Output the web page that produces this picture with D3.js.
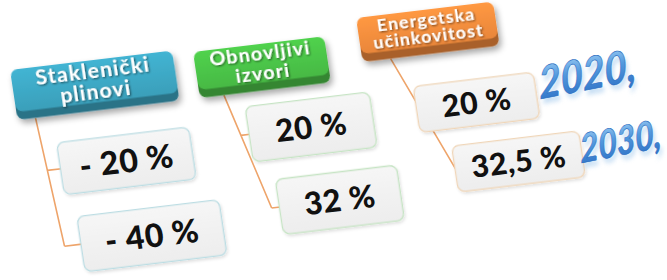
<!DOCTYPE html>
<html>
<head>
<meta charset="utf-8">
<script src="https://cdn.jsdelivr.net/npm/d3@7"></script>
<style>
	html, body { margin: 0; background: #fff; }
	svg { display: block; }
</style>
</head>
<body>
<div id="chart"></div>
<script>

// DATA

const categories = ['Staklenički plinovi', 'Obnovljivi izvori', 'Energetska učinkovitost'],
			targets2020 = ['- 20 %', '20 %', '20 %'],
			targets2030 = ['- 40 %', '32 %', '32,5 %'],
			years = ['2020,', '2030,'];

const headColors = ['#3a9fba', '#47b944', '#e9863a'],
			boxStrokes = ['#bcdde3', '#c6e4c4', '#f0d6b8'];

// LAYOUT (per group, local skewed frame)

const byGroup = r => d3.scaleLinear().domain([0, 1, 2]).range(r);

const originX = byGroup([10, 193, 356]),
			originY = byGroup([70, 52, 18]),
			headW = byGroup([162, 131, 137]),
			headH = byGroup([50, 46, 44]),
			labelSize = byGroup([21, 19.5, 17.5]),
			valueSize = byGroup([32, 31, 30]),
			lineX = byGroup([18, 24, 28]),
			lineSlant = byGroup([0.074, 0.26, 0.41]);

const rows = [
	{ values: targets2020, x: byGroup([35, 43, 46]), y: byGroup([77, 60, 74]), w: byGroup([132, 124, 120]), h: byGroup([52, 55, 46]) },
	{ values: targets2030, x: byGroup([44, 62, 75]), y: byGroup([152, 135, 137]), w: byGroup([142, 121, 127]), h: byGroup([55, 55, 46]) }
];

const yearX = d3.scaleLinear().domain([0, 1]).range([540, 581]),
			yearY = d3.scaleLinear().domain([0, 1]).range([99, 163]),
			yearSize = d3.scaleLinear().domain([0, 1]).range([37, 33]),
			yearStretch = d3.scaleLinear().domain([0, 1]).range([1.04, 0.98]);

// SVG

const svg = d3.select('#chart')
	.append('svg')
	.attr('width', 667)
	.attr('height', 280);

const defs = svg.append('defs');

defs.append('filter')
	.attr('id', 'headShadow')
	.attr('x', '-20%').attr('y', '-20%').attr('width', '140%').attr('height', '160%')
	.append('feDropShadow')
	.attr('dx', 2).attr('dy', 4).attr('stdDeviation', 3)
	.attr('flood-color', '#000').attr('flood-opacity', 0.35);

defs.append('filter')
	.attr('id', 'boxShadow')
	.attr('x', '-20%').attr('y', '-20%').attr('width', '140%').attr('height', '160%')
	.append('feDropShadow')
	.attr('dx', 1).attr('dy', 2).attr('stdDeviation', 1.5)
	.attr('flood-color', '#000').attr('flood-opacity', 0.12);

defs.append('filter')
	.attr('id', 'textShadow')
	.attr('x', '-20%').attr('y', '-30%').attr('width', '140%').attr('height', '160%')
	.append('feDropShadow')
	.attr('dx', 1).attr('dy', 1).attr('stdDeviation', 0.8)
	.attr('flood-color', '#000').attr('flood-opacity', 0.6);

const yearBlur = defs.append('filter').attr('id', 'yearBlur');
yearBlur.append('feGaussianBlur').attr('stdDeviation', 2);

headColors.forEach((c, i) => {
	const g = defs.append('linearGradient')
		.attr('id', 'face' + i)
		.attr('x1', 0).attr('y1', 0).attr('x2', 0).attr('y2', 1);
	g.append('stop').attr('offset', '0%').attr('stop-color', d3.color(c).brighter(0.35));
	g.append('stop').attr('offset', '100%').attr('stop-color', c);
});

const boxGrad = defs.append('linearGradient')
	.attr('id', 'boxFill')
	.attr('x1', 0).attr('y1', 0).attr('x2', 0).attr('y2', 1);
boxGrad.append('stop').attr('offset', '0%').attr('stop-color', '#f6f6f6');
boxGrad.append('stop').attr('offset', '100%').attr('stop-color', '#ededed');

const yearGrad = defs.append('linearGradient')
	.attr('id', 'yearFill')
	.attr('x1', 0).attr('y1', 0).attr('x2', 0).attr('y2', 1);
yearGrad.append('stop').attr('offset', '0%').attr('stop-color', '#b4dcfa');
yearGrad.append('stop').attr('offset', '45%').attr('stop-color', '#5299de');
yearGrad.append('stop').attr('offset', '100%').attr('stop-color', '#2a6cc2');

// GROUPS

const groups = svg.selectAll('.group')
	.data(categories.map((name, i) => ({ name, i })))
	.join('g')
	.classed('group', true)
	.attr('transform', d => `matrix(1,-0.12,0.15,1,${originX(d.i)},${originY(d.i)})`);

// connectors
groups.append('path')
	.attr('fill', 'none')
	.attr('stroke', '#eea46a')
	.attr('stroke-width', 1.6)
	.attr('d', d => {
		const top = headH(d.i),
					xAt = y => lineX(d.i) + lineSlant(d.i) * (y - top),
					cy = rows.map(r => r.y(d.i) + r.h(d.i) / 2),
					p = d3.path();
		p.moveTo(lineX(d.i), top);
		p.lineTo(xAt(cy[1]), cy[1]);
		rows.forEach((r, k) => {
			p.moveTo(xAt(cy[k]), cy[k]);
			p.lineTo(r.x(d.i) + 1, cy[k]);
		});
		return p.toString();
	});

// value boxes
rows.forEach(r => {
	groups.append('rect')
		.attr('x', d => r.x(d.i))
		.attr('y', d => r.y(d.i))
		.attr('width', d => r.w(d.i))
		.attr('height', d => r.h(d.i))
		.attr('rx', 7)
		.attr('fill', 'url(#boxFill)')
		.attr('stroke', d => boxStrokes[d.i])
		.attr('stroke-width', 1.3)
		.attr('filter', 'url(#boxShadow)');

	groups.append('text')
		.attr('x', d => r.x(d.i) + r.w(d.i) / 2)
		.attr('y', d => r.y(d.i) + r.h(d.i) / 2 + valueSize(d.i) * 0.36)
		.attr('text-anchor', 'middle')
		.attr('font-family', 'Lato, sans-serif')
		.attr('font-weight', 900)
		.attr('font-size', d => valueSize(d.i))
		.attr('letter-spacing', 0.5)
		.attr('fill', '#111')
		.text(d => r.values[d.i]);
});

// headers
const head = groups.append('g').attr('filter', 'url(#headShadow)');

head.append('rect')
	.attr('x', 0)
	.attr('y', 8)
	.attr('width', d => headW(d.i))
	.attr('height', d => headH(d.i) - 8)
	.attr('rx', 7)
	.attr('fill', d => d3.color(headColors[d.i]).darker(0.9));

head.append('rect')
	.attr('x', 0)
	.attr('y', 0)
	.attr('width', d => headW(d.i))
	.attr('height', d => headH(d.i) - 8)
	.attr('rx', 7)
	.attr('fill', d => `url(#face${d.i})`);

groups.append('text')
	.attr('text-anchor', 'middle')
	.attr('font-family', 'Lato, sans-serif')
	.attr('font-weight', 700)
	.attr('font-size', d => labelSize(d.i))
	.attr('letter-spacing', 1.2)
	.attr('fill', '#fff')
	.attr('filter', 'url(#textShadow)')
	.each(function (d) {
		const lines = d.name.split(' '),
					mid = (headH(d.i) - 8) / 2,
					lh = labelSize(d.i) * 1.0;
		d3.select(this).selectAll('tspan')
			.data(lines)
			.join('tspan')
			.attr('x', headW(d.i) / 2)
			.attr('y', (t, k) => mid + (k - (lines.length - 1) / 2) * lh + labelSize(d.i) * 0.36)
			.text(t => t);
	});

// years
const yearG = svg.selectAll('.year')
	.data(years)
	.join('g')
	.classed('year', true)
	.attr('transform', (d, i) => `translate(${yearX(i)},${yearY(i)}) rotate(-11) scale(${yearStretch(i)},1.2) skewX(-8)`);

yearG.append('text')
	.attr('x', 2)
	.attr('y', 4)
	.attr('font-family', 'Lato, sans-serif')
	.attr('font-style', 'italic')
	.attr('font-weight', 700)
	.attr('font-size', (d, i) => yearSize(i))
	.attr('fill', '#8ebde8')
	.attr('opacity', 0.55)
	.attr('filter', 'url(#yearBlur)')
	.text(d => d);

yearG.append('text')
	.attr('font-family', 'Lato, sans-serif')
	.attr('font-style', 'italic')
	.attr('font-weight', 700)
	.attr('font-size', (d, i) => yearSize(i))
	.attr('fill', 'url(#yearFill)')
	.attr('stroke', '#2a6cc0')
	.attr('stroke-width', 0.5)
	.text(d => d);

</script>
</body>
</html>
